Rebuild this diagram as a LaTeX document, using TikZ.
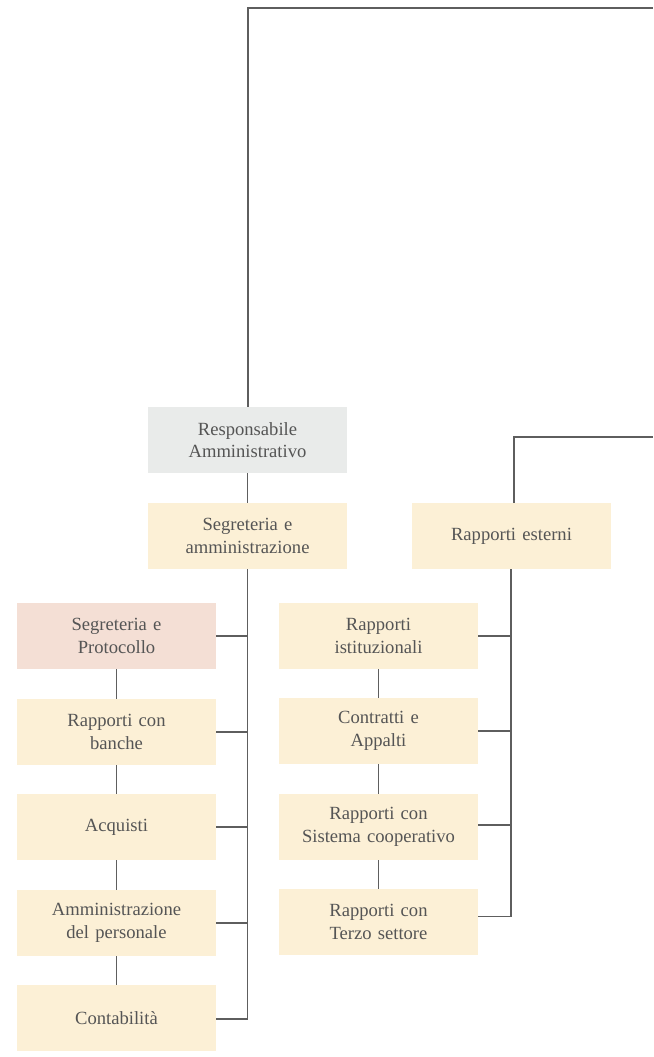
\documentclass[tikz,border=0pt]{standalone}
\usepackage{fontspec}
\setmainfont{Liberation Serif}
\definecolor{cream}{HTML}{FCF0D6}
\definecolor{pinkbox}{HTML}{F4DFD5}
\definecolor{greybox}{HTML}{E9EBEA}
\definecolor{txt}{HTML}{555555}
\definecolor{ln}{HTML}{5E5E5E}
\begin{document}
\begin{tikzpicture}[x=1pt,y=-1pt,
  box/.style={rectangle,fill=cream,minimum width=199pt,minimum height=66pt,inner sep=0pt,
    text width=190pt,align=center,text=txt,font=\fontsize{18.6pt}{22.5pt}\selectfont},
  pinkb/.style={box,fill=pinkbox},
  greyb/.style={box,fill=greybox},
  conn/.style={draw=ln,line width=1.1pt}]
\useasboundingbox (0,0) rectangle (653,1057);
% top row
\node[greyb] (ra) at (247.5,440) {Responsabile\\Amministrativo};
\node[box] (sa) at (247.5,536) {Segreteria e\\amministrazione};
\node[box] (re) at (511.5,536) {Rapporti esterni};
% left column
\node[pinkb] (l1) at (116.5,636) {Segreteria e\\Protocollo};
\node[box] (l2) at (116.5,732) {Rapporti con\\banche};
\node[box] (l3) at (116.5,827) {Acquisti};
\node[box] (l4) at (116.5,923) {Amministrazione\\del personale};
\node[box] (l5) at (116.5,1018) {Contabilità};
% middle column
\node[box] (m1) at (378.5,636) {Rapporti\\istituzionali};
\node[box] (m2) at (378.5,731) {Contratti e\\Appalti};
\node[box] (m3) at (378.5,827) {Rapporti con\\Sistema cooperativo};
\node[box] (m4) at (378.5,922) {Rapporti con\\Terzo settore};
% coordinates
\coordinate (topA) at (248,8);
\coordinate (topB) at (653,8);
\coordinate (reA) at (514,437);
\coordinate (reB) at (653,437);
\coordinate (lv) at (247.5,1019);
\coordinate (mv) at (511,916.5);
% top connectors
\draw[conn] (ra.north -| topA) -- (topA) -- (topB);
\draw[conn] (re.north -| reA) -- (reA) -- (reB);
\draw[conn] (ra) -- (sa);
% left spine
\draw[conn] (sa.south -| lv) -- (lv) -- (l5.east |- lv);
\foreach \n/\y in {l1/636,l2/732,l3/827,l4/923}
  \draw[conn] (\n.east |- 0,\y) -- (247.5,\y);
\draw[conn] (l1) -- (l2);
\draw[conn] (l2) -- (l3);
\draw[conn] (l3) -- (l4);
\draw[conn] (l4) -- (l5);
% middle spine
\draw[conn] (re.south -| mv) -- (mv) -- (m4.east |- mv);
\foreach \n/\y in {m1/636,m2/731,m3/825}
  \draw[conn] (\n.east |- 0,\y) -- (511,\y);
\draw[conn] (m1) -- (m2);
\draw[conn] (m2) -- (m3);
\draw[conn] (m3) -- (m4);
\end{tikzpicture}
\end{document}
